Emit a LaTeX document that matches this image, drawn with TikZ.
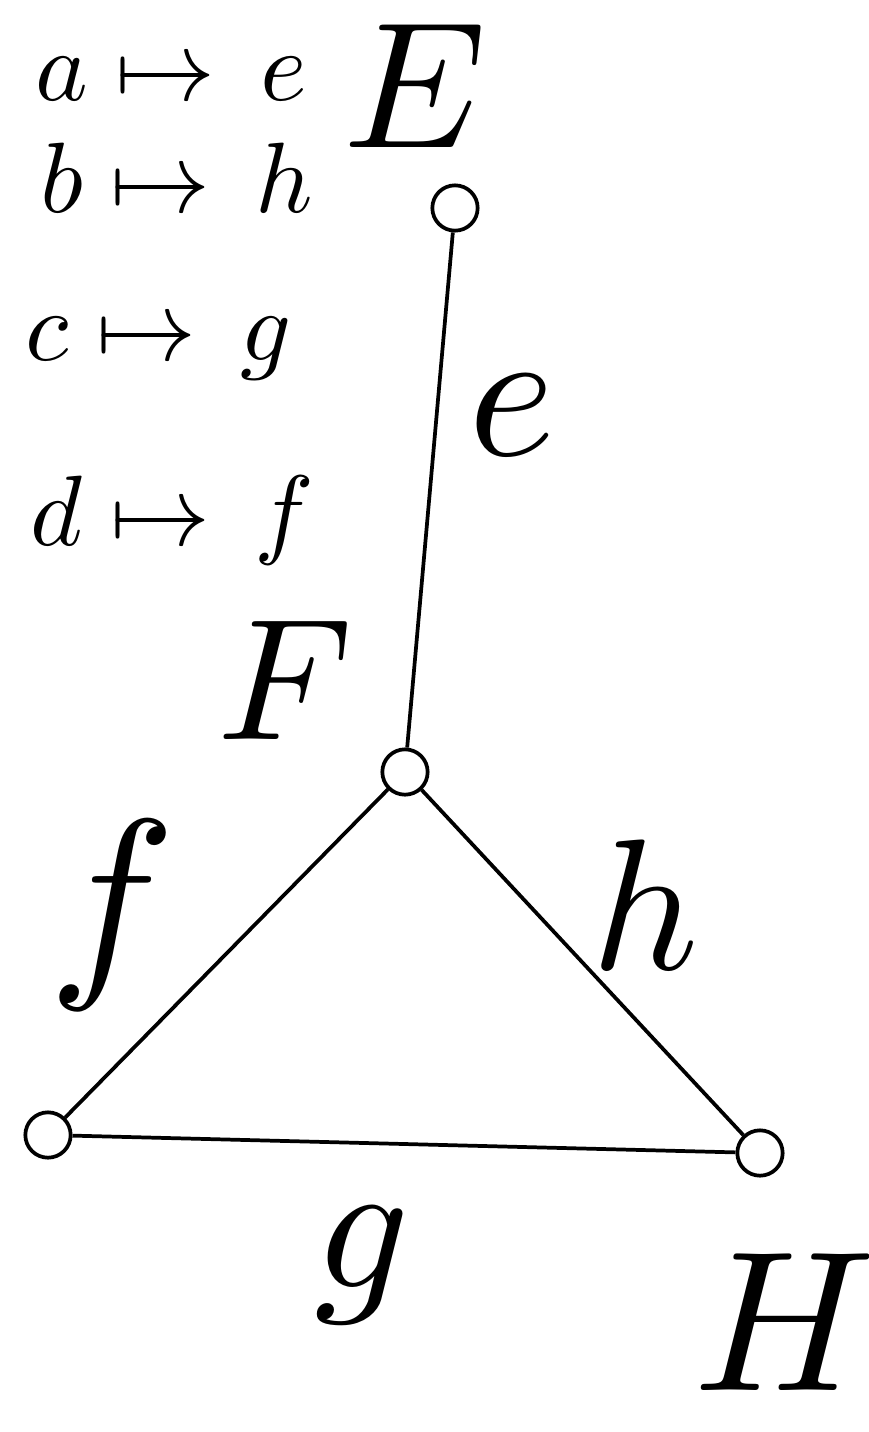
\documentclass[tikz,border=0pt]{standalone}
\usepackage{graphicx}
\usepackage{amsmath}
\begin{document}
\begin{tikzpicture}[x=0.75pt,y=-0.75pt,
  vtx/.style={circle,draw,line width=2.8pt,minimum size=34pt,inner sep=0pt},
  edge/.style={line width=2.8pt},
  maplab/.style={anchor=base west,inner sep=0pt},
  elab/.style={inner sep=0pt},
  vlab/.style={inner sep=0pt}]
\useasboundingbox (0,0) rectangle (868,1432);
\fill[white] (0,0) rectangle (868,1432);
% mapping list
\node[maplab] (m1) at (35,100) {\scalebox{7.5}{$a\mapsto\, e$}};
\node[maplab] (m2) at (40,212) {\scalebox{7.5}{$b\mapsto\, h$}};
\node[maplab] (m3) at (25,360) {\scalebox{7.5}{$c\mapsto\, g$}};
\node[maplab] (m4) at (30,545) {\scalebox{7.5}{$d\mapsto\, f$}};
% vertices
\node[vtx] (vE) at (455,208) {};
\node[vtx] (vC) at (405,772) {};
\node[vtx] (vL) at (48,1135) {};
\node[vtx] (vR) at (760,1153) {};
% edges
\draw[edge] (vE) -- (vC);
\draw[edge] (vC) -- (vL);
\draw[edge] (vC) -- (vR);
\draw[edge] (vL) -- (vR);
% edge labels
\node[elab] (le) at (512,415) {\scalebox{14}{$e$}};
\node[elab] (lf) at (112,915) {\scalebox{16}{$f$}};
\node[elab] (lh) at (645,905) {\scalebox{14}{$h$}};
\node[elab] (lg) at (362,1265) {\scalebox{14}{$g$}};
% vertex labels
\node[vlab] (LE) at (415,86) {\scalebox{13.5}{$E$}};
\node[vlab] (LF) at (285,680) {\scalebox{13}{$F$}};
\node[vlab] (LH) at (785,1322) {\scalebox{15}{$H$}};
\end{tikzpicture}
\end{document}
